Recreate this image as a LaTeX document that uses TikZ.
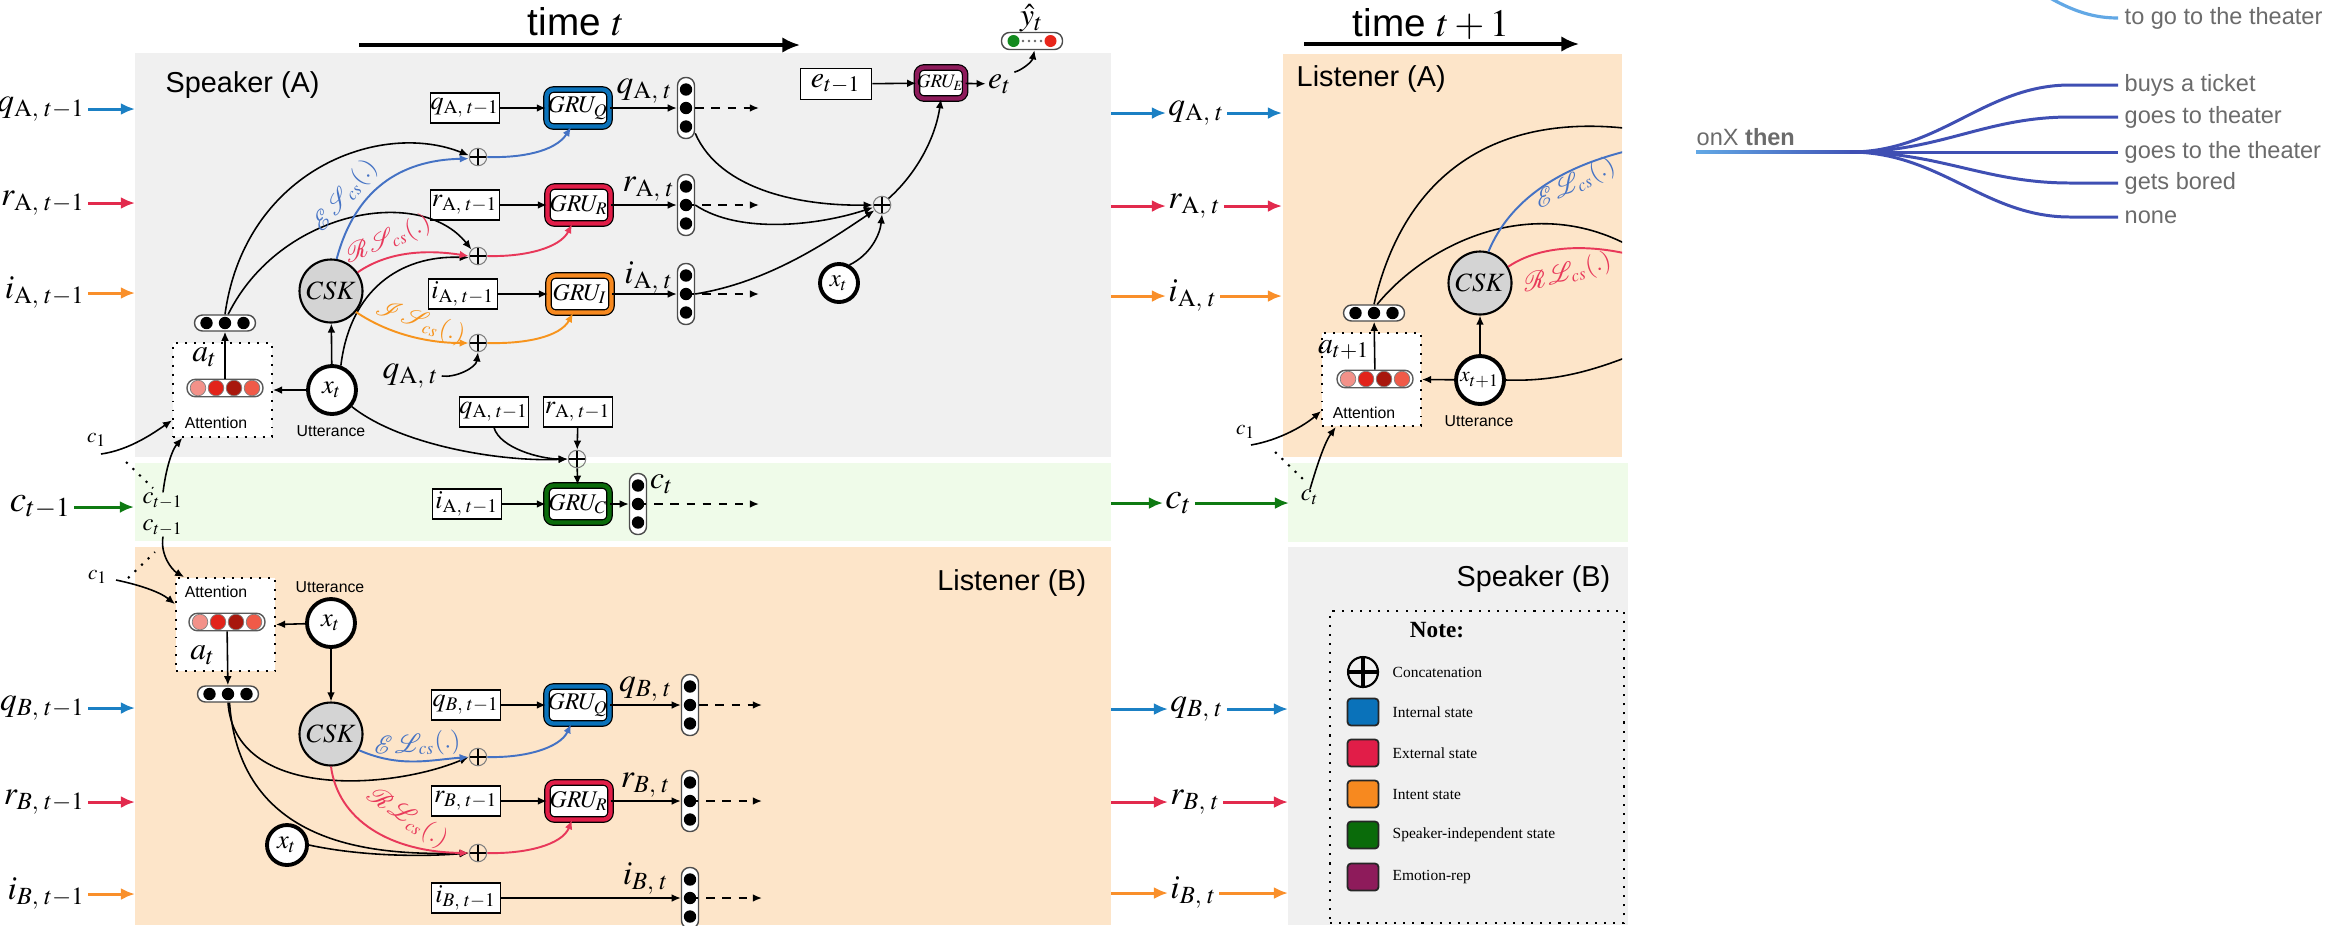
\documentclass[tikz,border=0pt]{standalone}
\usepackage{mathptmx}
\usepackage{mathrsfs}
\usepackage{fontspec}
\setmainfont{Liberation Serif}
\setsansfont{Liberation Sans}
\usetikzlibrary{arrows.meta}

\definecolor{panelgray}{HTML}{F0F0F0}
\definecolor{panelpeach}{HTML}{FDE5C9}
\definecolor{panelgreen}{HTML}{EFFBE9}
\definecolor{stQ}{HTML}{0A72BA}
\definecolor{stR}{HTML}{E11D48}
\definecolor{stI}{HTML}{F7891F}
\definecolor{stC}{HTML}{0A6B0A}
\definecolor{stE}{HTML}{8E1B5B}
\definecolor{csQ}{HTML}{4472C4}
\definecolor{csR}{HTML}{E8385A}
\definecolor{csI}{HTML}{F7941D}
\definecolor{sideQ}{HTML}{1B80C4}
\definecolor{sideR}{HTML}{E22A4D}
\definecolor{sideI}{HTML}{F98F2A}
\definecolor{sideC}{HTML}{0E7A12}
\definecolor{attdotA}{HTML}{F39189}
\definecolor{attdotB}{HTML}{E2231A}
\definecolor{attdotC}{HTML}{A8170D}
\definecolor{attdotD}{HTML}{F05A48}
\definecolor{yhgreen}{HTML}{138A1E}
\definecolor{yhred}{HTML}{E8261B}
\definecolor{cskgray}{HTML}{D4D4D4}
\definecolor{fanblue}{HTML}{3F4FB3}
\definecolor{fanlight}{HTML}{62A8E5}
\definecolor{leaftext}{HTML}{6B6B6B}

\newcommand\fSide{\fontsize{9.5}{10}\selectfont}
\newcommand\fBox{\fontsize{7.4}{8}\selectfont}
\newcommand\fGru{\fontsize{6.8}{7}\selectfont}
\newcommand\fGruE{\fontsize{5.4}{6}\selectfont}
\newcommand\fPanel{\fontsize{8.2}{9}\selectfont\sffamily}
\newcommand\fTime{\fontsize{11}{12}\selectfont}
\newcommand\fTiny{\fontsize{4.5}{5}\selectfont\sffamily}
\newcommand\fCS{\fontsize{7}{8}\selectfont}
\newcommand\fLeg{\fontsize{4.4}{5}\selectfont}
\newcommand\fLeaf{\fontsize{6.7}{7}\selectfont\sffamily}
\newcommand\fSmall{\fontsize{6}{7}\selectfont}
\newcommand\fSub{\fontsize{7}{8}\selectfont}

\tikzset{
  arr/.style={line width=0.45pt, -{Latex[length=2.6pt,width=2.2pt]}},
  darr/.style={line width=0.5pt, dash pattern=on 2.4pt off 2.2pt, -{Latex[length=2.6pt,width=2.2pt]}},
  carr/.style={line width=0.55pt, draw=#1, -{Latex[length=2.6pt,width=2.2pt]}},
  sidearr/.style={line width=0.85pt, draw=#1, -{Latex[length=4pt,width=3.4pt]}},
  timearr/.style={line width=0.9pt, -{Latex[length=5pt,width=4.4pt]}},
  tlabel/.style={inner sep=0.5pt, font=\fSide},
  vbox/.style={draw, line width=0.5pt, fill=white, inner sep=0pt, minimum width=6.9mm, minimum height=2.95mm, font=\fBox},
  gru/.style={draw=black, line width=0.35pt, double=#1, double distance=1.2pt, rounded corners=2pt, fill=white, inner sep=0pt, minimum width=6.3mm, minimum height=3.7mm, font=\fGru},
  concat/.style={circle, draw=black!50, line width=0.3pt, minimum size=1.75mm, inner sep=0pt,
    path picture={\draw[black, line width=#1] (path picture bounding box.north) -- (path picture bounding box.south)
      (path picture bounding box.west) -- (path picture bounding box.east);}},
  concat/.default=0.75pt,
  dotcol/.style={draw=black!70, line width=0.4pt, fill=white, rounded corners=0.8mm, minimum width=1.7mm, minimum height=6.1mm, inner sep=0pt,
    path picture={\foreach \d in {-1.85mm,0mm,1.85mm}{\fill[black] (path picture bounding box.center) ++(0,\d) circle[radius=0.62mm];}}},
  dotrow/.style={draw=black!70, line width=0.4pt, fill=white, rounded corners=0.8mm, minimum width=6.1mm, minimum height=1.6mm, inner sep=0pt,
    path picture={\foreach \d in {-1.85mm,0mm,1.85mm}{\fill[black] (path picture bounding box.center) ++(\d,0) circle[radius=0.62mm];}}},
  attrow/.style={draw=black!65, line width=0.4pt, fill=white, rounded corners=0.85mm, minimum width=7.6mm, minimum height=1.75mm, inner sep=0pt,
    path picture={\foreach \d/\c in {-2.7mm/attdotA,-0.9mm/attdotB,0.9mm/attdotC,2.7mm/attdotD}{\filldraw[fill=\c, draw=black!50, line width=0.2pt] (path picture bounding box.center) ++(\d,0) circle[radius=0.78mm];}}},
  ybox/.style={draw=black!70, line width=0.4pt, fill=white, rounded corners=0.8mm, minimum width=6.1mm, minimum height=1.7mm, inner sep=0pt,
    path picture={\fill[yhgreen] (path picture bounding box.center) ++(-1.85mm,0) circle[radius=0.6mm];
      \fill[yhred] (path picture bounding box.center) ++(1.85mm,0) circle[radius=0.6mm];
      \foreach \d in {-0.9mm,-0.3mm,0.3mm,0.9mm}{\fill[black!60] (path picture bounding box.center) ++(\d,0) circle[radius=0.14mm];}}},
  attbox/.style={draw, dotted, line width=0.55pt, fill=white, minimum width=9.9mm, minimum height=9.4mm, inner sep=0pt},
  utt/.style={circle, draw, line width=1.1pt, fill=white, inner sep=0pt, minimum size=4.8mm, font=\fontsize{7.5}{8}\selectfont},
  csk/.style={circle, draw, line width=0.6pt, fill=cskgray, inner sep=0pt, minimum size=6.3mm, font=\fontsize{7.5}{8}\selectfont},
  csl/.style={inner sep=0pt, font=\fCS, text=#1},
  legsq/.style={draw=black!85, line width=0.5pt, rounded corners=1pt, fill=#1, minimum width=3.1mm, minimum height=2.7mm, inner sep=0pt},
  legtext/.style={anchor=west, inner sep=0pt, font=\fLeg},
  leaf/.style={anchor=west, inner sep=0pt, font=\fLeaf, text=leaftext},
}

\begin{document}
\begin{tikzpicture}[x=0.1mm, y=-0.1mm]
\useasboundingbox (0,0) rectangle (2343,925);

% ---------------- background panels
\fill[panelgray]  (135,53) rectangle (1111,457);
\fill[panelgreen] (135,463) rectangle (1111,541);
\fill[panelpeach] (135,547) rectangle (1111,925);
\fill[panelpeach] (1283,54) rectangle (1622,457);
\fill[panelgreen] (1288,463) rectangle (1628,542);
\fill[panelgray]  (1288,547) rectangle (1628,925);

\node[anchor=base west, inner sep=0pt, font=\fPanel] (tSA) at (165,92) {Speaker (A)};
\node[anchor=base east, inner sep=0pt, font=\fPanel] (tLB) at (1087,590) {Listener (B)};
\node[anchor=base west, inner sep=0pt, font=\fPanel] (tLA) at (1296,86) {Listener (A)};
\node[anchor=base east, inner sep=0pt, font=\fPanel] (tSB) at (1611,586) {Speaker (B)};

% ---------------- time axes
\node[anchor=base, inner sep=0pt, font=\fTime] (timeA) at (576,35) {\sffamily time $t$};
\coordinate (tAs) at (359,45); \coordinate (tAe) at (800,45);
\draw[timearr] (tAs) -- (tAe);
\node[anchor=base, inner sep=0pt, font=\fTime] (timeB) at (1431,36) {\sffamily time $t+1$};
\coordinate (tBs) at (1304,44); \coordinate (tBe) at (1579,44);
\draw[timearr] (tBs) -- (tBe);

% ---------------- incoming states (left)
\node[tlabel, anchor=east] (LqA) at (88,109) {$q_{\mathrm{A},\;t-1}$};
\node[tlabel, anchor=east] (LrA) at (88,203) {$r_{\mathrm{A},\;t-1}$};
\node[tlabel, anchor=east] (LiA) at (88,293) {$i_{\mathrm{A},\;t-1}$};
\node[tlabel, anchor=east, font=\fontsize{10.5}{11}\selectfont] (Lc) at (74,507) {$c_{t-1}$};
\node[tlabel, anchor=east] (LqB) at (88,708) {$q_{B,\;t-1}$};
\node[tlabel, anchor=east] (LrB) at (88,802) {$r_{B,\;t-1}$};
\node[tlabel, anchor=east] (LiB) at (88,894) {$i_{B,\;t-1}$};
\coordinate (LqAe) at (135,109); \coordinate (LrAe) at (135,203); \coordinate (LiAe) at (135,293);
\coordinate (Lce) at (134,507);
\coordinate (LqBe) at (135,708); \coordinate (LrBe) at (135,802); \coordinate (LiBe) at (135,894);
\draw[sidearr=sideQ] (LqA) -- (LqAe);
\draw[sidearr=sideR] (LrA) -- (LrAe);
\draw[sidearr=sideI] (LiA) -- (LiAe);
\draw[sidearr=sideC] (Lc) -- (Lce);
\draw[sidearr=sideQ] (LqB) -- (LqBe);
\draw[sidearr=sideR] (LrB) -- (LrBe);
\draw[sidearr=sideI] (LiB) -- (LiBe);

% ---------------- outgoing states (between t and t+1)
\node[tlabel, anchor=west] (RqA) at (1166,113) {$q_{\mathrm{A},\;t}$};
\node[tlabel, anchor=west] (RrA) at (1166,206) {$r_{\mathrm{A},\;t}$};
\node[tlabel, anchor=west] (RiA) at (1166,296) {$i_{\mathrm{A},\;t}$};
\node[tlabel, anchor=west, font=\fontsize{10.5}{11}\selectfont] (Rc) at (1163,503) {$c_t$};
\node[tlabel, anchor=west] (RqB) at (1168,709) {$q_{B,\;t}$};
\node[tlabel, anchor=west] (RrB) at (1168,802) {$r_{B,\;t}$};
\node[tlabel, anchor=west] (RiB) at (1168,893) {$i_{B,\;t}$};
\foreach \n/\y/\c/\e in {qA/113/sideQ/1282, rA/206/sideR/1282, iA/296/sideI/1282, c/503/sideC/1289, qB/709/sideQ/1288, rB/802/sideR/1288, iB/893/sideI/1288}{
  \coordinate (R\n s) at (1111,\y);
  \coordinate (R\n e) at (\e,\y);
  \draw[sidearr=\c] (R\n s) -- (R\n);
  \draw[sidearr=\c] (R\n) -- (R\n e);
}

% ================= Speaker (A) at time t
\node[vbox] (qA1) at (465,108) {$q_{\mathrm{A},\;t-1}$};
\node[gru=stQ] (gQA) at (578,108) {$GRU_Q$};
\node[dotcol] (hQA) at (686,108) {};
\node[vbox] (rA1) at (465,205) {$r_{\mathrm{A},\;t-1}$};
\node[gru=stR] (gRA) at (579,205) {$GRU_R$};
\node[dotcol] (hRA) at (686,205) {};
\node[vbox] (iA1) at (463,294) {$i_{\mathrm{A},\;t-1}$};
\node[gru=stI] (gIA) at (580,294) {$GRU_I$};
\node[dotcol] (hIA) at (686,294) {};
\draw[arr] (qA1) -- (gQA);
\draw[arr] (rA1) -- (gRA);
\draw[arr] (iA1) -- (gIA);
\draw[arr] (gQA) -- (hQA);
\draw[arr] (gRA) -- (hRA);
\draw[arr] (gIA) -- (hIA);
\node[tlabel] (lqAt) at (645,91) {$q_{\mathrm{A},\;t}$};
\node[tlabel] (lrAt) at (649,189) {$r_{\mathrm{A},\;t}$};
\node[tlabel] (liAt) at (649,278) {$i_{\mathrm{A},\;t}$};
\coordinate (dqA) at (759,108); \coordinate (drA) at (759,205); \coordinate (diA) at (759,294);
\draw[darr] (hQA.east) -- (dqA);
\draw[darr] (hRA.center) -- (drA);
\draw[darr] (hIA.center) -- (diA);

\node[concat] (cqA) at (478,157) {};
\node[concat] (crA) at (478,256) {};
\node[concat] (ciA) at (478,343) {};

\node[attbox] (attA) at (222.5,390) {};
\node[inner sep=0pt, font=\fontsize{9}{9}\selectfont] (atA) at (205,357) {$a_t$};
\node[attrow] (arA) at (225,388) {};
\node[inner sep=0pt, font=\fTiny] (atxA) at (216,423) {Attention};
\node[dotrow] (d3A) at (225,323) {};
\node[csk] (kA) at (331,291) {$CSK$};
\node[utt] (xA) at (332,390) {$x_t$};
\node[inner sep=0pt, font=\fTiny] (utA) at (331,431) {Utterance};

\draw[arr] (xA) -- (attA.east);
\draw[arr] (xA) -- (kA);
\draw[arr] (arA) -- (d3A);

% memory and utterance into the concatenations
\draw[arr] (d3A.north) .. controls (245,170) and (380,120) .. (cqA.170);
\draw[arr] (d3A.70) .. controls (280,210) and (420,185) .. (crA.135);
\draw[arr] (xA.70) .. controls (350,290) and (400,255) .. (crA.190);
\node[tlabel] (qAtl) at (411,376) {$q_{\mathrm{A},\;t}$};
\draw[arr] (qAtl.east) .. controls (455,378) and (476,368) .. (ciA.south);

% commonsense channels
\draw[carr=csQ] (kA.80) .. controls (355,190) and (400,160) .. (cqA.190);
\draw[carr=csR] (kA.35) .. controls (390,250) and (430,250) .. (crA.180);
\draw[carr=csI] (kA.-40) .. controls (390,335) and (430,343) .. (ciA.west);
\node[csl=csQ, rotate=50] (lESA) at (345,196) {$\mathscr{E}\mathscr{S}_{cs}(.)$};
\node[csl=csR, rotate=23] (lRSA) at (388,240) {$\mathscr{R}\mathscr{S}_{cs}(.)$};
\node[csl=csI, rotate=-18] (lISA) at (420,322) {$\mathscr{I}\mathscr{S}_{cs}(.)$};
\draw[carr=csQ] (cqA.east) .. controls (520,158) and (555,152) .. (gQA.-110);
\draw[carr=csR] (crA.east) .. controls (525,257) and (560,248) .. (gRA.-110);
\draw[carr=csI] (ciA.east) .. controls (525,344) and (560,337) .. (gIA.-110);

% emotion branch
\node[vbox, minimum width=7.1mm, minimum height=3.1mm, font=\fontsize{8.5}{9}\selectfont] (em1) at (836,84) {$e_{t-1}$};
\node[gru=stE, minimum width=4.5mm, minimum height=3.1mm, font=\fGruE] (gE) at (941,83) {$GRU_E$};
\node[tlabel, font=\fontsize{9}{9}\selectfont] (et) at (1000,84) {$e_t$};
\node[ybox] (yh) at (1032,41) {};
\node[tlabel, font=\fontsize{9}{9}\selectfont] (yhl) at (1032,18) {$\hat{y}_t$};
\node[concat] (ce) at (882,205) {};
\node[utt, minimum size=3.8mm, font=\fontsize{7}{7}\selectfont] (xe) at (839,283) {$x_t$};
\draw[arr] (em1) -- (gE);
\draw[arr] (gE) -- (et);
\draw[arr] (et.north east) .. controls (1022,70) and (1032,62) .. (yh.-75);
\draw[arr] (hQA.-70) .. controls (720,190) and (800,206) .. (ce.180);
\draw[arr] (hRA.east) .. controls (740,235) and (820,225) .. (ce.195);
\draw[arr] (hIA.east) .. controls (770,282) and (830,240) .. (ce.215);
\draw[arr] (xe.60) .. controls (870,255) and (880,235) .. (ce.south);
\draw[arr] (ce.north east) .. controls (915,175) and (935,140) .. (gE.south);

% ================= speaker-independent state
\node[vbox] (qA2) at (494,412) {$q_{\mathrm{A},\;t-1}$};
\node[vbox] (rA2) at (578,412) {$r_{\mathrm{A},\;t-1}$};
\node[concat] (cc) at (577,459) {};
\node[gru=stC] (gC) at (578,504) {$GRU_C$};
\node[vbox] (iA3) at (467,504) {$i_{\mathrm{A},\;t-1}$};
\node[dotcol] (hC) at (638,504) {};
\node[tlabel, font=\fontsize{9}{9}\selectfont] (lct) at (662,484) {$c_t$};
\coordinate (dC) at (759,504);
\draw[arr] (rA2) -- (cc);
\draw[arr] (qA2.south) .. controls (500,448) and (540,459) .. (cc.west);
\draw[arr] (xA.-40) .. controls (400,445) and (500,462) .. (cc.west);
\draw[arr] (cc) -- (gC);
\draw[arr] (iA3) -- (gC);
\draw[arr] (gC) -- (hC);
\draw[darr] (hC.center) -- (dC);

% context inputs of the attention modules
\node[inner sep=0pt, font=\fSub] (cma) at (163,501) {$c_{t-1}$};
\node[inner sep=0pt, font=\fSub] (cmb) at (163,528) {$c_{t-1}$};
\node[inner sep=0pt, font=\fSmall] (c1a) at (97,440) {$c_1$};
\node[inner sep=0pt, font=\fSmall] (c1b) at (98,577) {$c_1$};
\coordinate (c1as) at (101,454);
\coordinate (c1bs) at (116,580);
\draw[arr] (c1as) .. controls (130,450) and (155,432) .. (attA.-149);
\draw[arr] (cma.north) .. controls (166,468) and (172,450) .. (attA.-130);
\coordinate (dota1) at (126,462); \coordinate (dota2) at (153,488);
\draw[dotted, line width=0.6pt] (dota1) -- (dota2);
\coordinate (dotb1) at (128,578); \coordinate (dotb2) at (155,552);
\draw[dotted, line width=0.6pt] (dotb1) -- (dotb2);

% ================= Listener (B) at time t
\node[attbox, minimum height=9.3mm] (attB) at (225.5,624.5) {};
\node[inner sep=0pt, font=\fTiny] (atxB) at (216,592) {Attention};
\node[attrow] (arB) at (227,622) {};
\node[inner sep=0pt, font=\fontsize{9}{9}\selectfont] (atB) at (203,655) {$a_t$};
\node[dotrow] (d3B) at (228,694) {};
\node[inner sep=0pt, font=\fTiny] (utB) at (330,587) {Utterance};
\node[utt] (xB) at (331,623) {$x_t$};
\node[csk] (kB) at (331,734) {$CSK$};
\draw[arr] (cmb.south) .. controls (160,555) and (172,570) .. (attB.131);
\draw[arr] (c1bs) .. controls (140,585) and (160,592) .. (attB.158);
\draw[arr] (xB) -- (attB.east);
\draw[arr] (xB) -- (kB);
\draw[arr] (arB) -- (d3B);

\node[vbox] (qB1) at (466,705) {$q_{B,\;t-1}$};
\node[gru=stQ] (gQB) at (578,705) {$GRU_Q$};
\node[dotcol] (hQB) at (690,705) {};
\node[vbox] (rB1) at (466,801) {$r_{B,\;t-1}$};
\node[gru=stR] (gRB) at (579,801) {$GRU_R$};
\node[dotcol] (hRB) at (690,801) {};
\node[vbox] (iB1) at (466,898) {$i_{B,\;t-1}$};
\node[dotcol] (hIB) at (690,898) {};
\node[tlabel] (lqBt) at (646,689) {$q_{B,\;t}$};
\node[tlabel] (lrBt) at (646,785) {$r_{B,\;t}$};
\node[tlabel] (liBt) at (646,879) {$i_{B,\;t}$};
\draw[arr] (qB1) -- (gQB);
\draw[arr] (rB1) -- (gRB);
\draw[arr] (iB1) -- (hIB);
\draw[arr] (gQB) -- (hQB);
\draw[arr] (gRB) -- (hRB);
\coordinate (dqB) at (762,705); \coordinate (drB) at (762,801); \coordinate (diB) at (762,898);
\draw[darr] (hQB.east) -- (dqB);
\draw[darr] (hRB.center) -- (drB);
\draw[darr] (hIB.center) -- (diB);

\node[concat] (cqB) at (478,757) {};
\node[concat] (crB) at (478,853) {};
\node[utt, minimum size=4mm] (xB2) at (287,845) {$x_t$};
\draw[arr] (d3B.south) .. controls (235,800) and (390,790) .. (cqB.west);
\draw[arr] (d3B.-80) .. controls (240,850) and (380,855) .. (crB.west);
\draw[arr] (xB2.east) .. controls (360,856) and (420,857) .. (crB.west);
\draw[carr=csQ] (kB.-30) .. controls (400,768) and (430,760) .. (cqB.west);
\draw[carr=csR] (kB.south) .. controls (338,820) and (390,852) .. (crB.west);
\node[csl=csQ, rotate=5] (lELB) at (417,745) {$\mathscr{E}\mathscr{L}_{cs}(.)$};
\node[csl=csR, rotate=-33] (lRLB) at (407,818) {$\mathscr{R}\mathscr{L}_{cs}(.)$};
\draw[carr=csQ] (cqB.east) .. controls (525,758) and (560,748) .. (gQB.-110);
\draw[carr=csR] (crB.east) .. controls (525,854) and (562,845) .. (gRB.-110);

% ================= Listener (A) at time t+1
\node[attbox, minimum height=9.3mm] (attL) at (1371.5,379.5) {};
\node[inner sep=0pt, font=\fontsize{8.5}{9}\selectfont] (atL) at (1344,350) {$a_{t+1}$};
\node[attrow] (arL) at (1375,379) {};
\node[inner sep=0pt, font=\fTiny] (atxL) at (1364,413) {Attention};
\node[dotrow] (d3L) at (1374,313) {};
\node[csk] (kL) at (1480,283) {$CSK$};
\node[utt, font=\fontsize{6}{6}\selectfont] (xL) at (1480,380) {$x_{t+1}$};
\node[inner sep=0pt, font=\fTiny] (utL) at (1479,421) {Utterance};
\draw[arr] (xL) -- (attL.east);
\draw[arr] (xL) -- (kL);
\draw[arr] (arL) -- (d3L);
\node[inner sep=0pt, font=\fSmall] (c1c) at (1246,432) {$c_1$};
\node[inner sep=0pt, font=\fSub] (ctL) at (1310,497) {$c_t$};
\coordinate (c1cs) at (1251,445);
\draw[arr] (c1cs) .. controls (1280,440) and (1305,425) .. (attL.-148);
\draw[arr] (ctL.north) .. controls (1318,462) and (1325,442) .. (attL.-127);
\coordinate (dotc1) at (1275,452); \coordinate (dotc2) at (1303,479);
\draw[dotted, line width=0.6pt] (dotc1) -- (dotc2);

\begin{scope}
  \clip (1283,54) rectangle (1622,457);
  \coordinate (o1) at (1640,130); \coordinate (o2) at (1640,252);
  \coordinate (o3) at (1640,148); \coordinate (o4) at (1640,257);
  \coordinate (o5) at (1640,352);
  \draw[line width=0.45pt] (d3L.north) .. controls (1405,170) and (1500,110) .. (o1);
  \draw[line width=0.45pt] (d3L.70) .. controls (1430,240) and (1540,190) .. (o2);
  \draw[line width=0.55pt, csQ] (kL.75) .. controls (1510,200) and (1560,165) .. (o3);
  \draw[line width=0.55pt, csR] (kL.30) .. controls (1540,245) and (1590,243) .. (o4);
  \draw[line width=0.45pt] (xL.east) .. controls (1560,382) and (1600,368) .. (o5);
\end{scope}
\node[csl=csQ, rotate=27] (lELL) at (1575,184) {$\mathscr{E}\mathscr{L}_{cs}(.)$};
\node[csl=csR, rotate=16] (lRLL) at (1567,274) {$\mathscr{R}\mathscr{L}_{cs}(.)$};

% ================= legend
\node[draw, dotted, line width=0.6pt, minimum width=29.4mm, minimum height=31.2mm, inner sep=0pt] (note) at (1477,767) {};
\node[inner sep=0pt, font=\fontsize{6.6}{7}\selectfont\bfseries] (noteT) at (1437,630) {Note:};
\node[concat=1.3pt, draw=black, line width=0.6pt, minimum size=3mm] (lgC) at (1363,672) {};
\node[legsq=stQ] (lgQ) at (1363,712) {};
\node[legsq=stR] (lgR) at (1363,753) {};
\node[legsq=stI] (lgI) at (1363,794) {};
\node[legsq=stC] (lgS) at (1363,835) {};
\node[legsq=stE] (lgE) at (1363,877) {};
\node[legtext] (lgCt) at (1392,672) {Concatenation};
\node[legtext] (lgQt) at (1392,712) {Internal state};
\node[legtext] (lgRt) at (1392,753) {External state};
\node[legtext] (lgIt) at (1392,794) {Intent state};
\node[legtext] (lgSt) at (1392,835) {Speaker-independent state};
\node[legtext] (lgEt) at (1392,877) {Emotion-rep};

% ================= commonsense tree fragment
\coordinate (lb0s) at (2050,-2); \coordinate (lb0e) at (2118,18);
\draw[fanlight, line width=0.9pt] (lb0s) .. controls (2075,12) and (2095,18) .. (lb0e);
\node[leaf] (lf0) at (2124,18) {to go to the theater};
\node[leaf] (root) at (1696,137) {onX \textbf{then}};
\shade[left color=fanlight, right color=fanblue] (1696,150.5) rectangle (1865,153.5);
\coordinate (fan) at (1850,152);
\foreach \i/\y/\t in {1/85/buys a ticket, 2/117/goes to theater, 3/152/goes to the theater, 4/183/gets bored, 5/217/none}{
  \coordinate (le\i) at (2118,\y);
  \draw[fanblue, line width=0.85pt] (fan) .. controls (1940,152) and (1985,\y) .. (2070,\y) -- (le\i);
  \node[leaf] (lf\i) at (2124,\y) {\t};
}
\end{tikzpicture}
\end{document}
